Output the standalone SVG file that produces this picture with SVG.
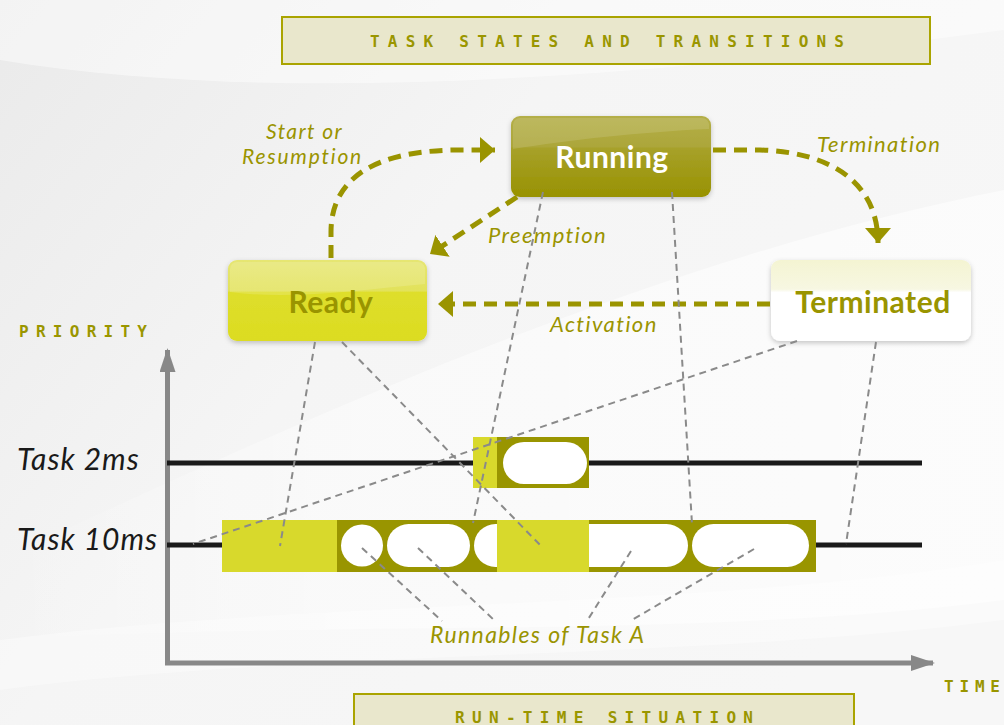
<svg xmlns="http://www.w3.org/2000/svg" width="1004" height="725" viewBox="0 0 1004 725">
  <defs>
    <linearGradient id="bg" x1="0" y1="0" x2="1" y2="0.6">
      <stop offset="0" stop-color="#eaeaea"/>
      <stop offset="0.45" stop-color="#f5f5f5"/>
      <stop offset="1" stop-color="#f7f7f7"/>
    </linearGradient>
    <linearGradient id="sweep" x1="0" y1="0" x2="1" y2="0">
      <stop offset="0" stop-color="#ffffff" stop-opacity="0"/>
      <stop offset="0.35" stop-color="#ffffff" stop-opacity="0.45"/>
      <stop offset="1" stop-color="#ffffff" stop-opacity="0.6"/>
    </linearGradient>
    <linearGradient id="gRunning" x1="0" y1="0" x2="0" y2="1">
      <stop offset="0" stop-color="#b4af48"/>
      <stop offset="0.38" stop-color="#aca63a"/>
      <stop offset="0.4" stop-color="#a7a12a"/>
      <stop offset="1" stop-color="#989200"/>
    </linearGradient>
    <linearGradient id="gReady" x1="0" y1="0" x2="0" y2="1">
      <stop offset="0" stop-color="#e6e673"/>
      <stop offset="0.38" stop-color="#e2e25a"/>
      <stop offset="0.4" stop-color="#dede2c"/>
      <stop offset="1" stop-color="#dcdc20"/>
    </linearGradient>
    <linearGradient id="gTerm" x1="0" y1="0" x2="0" y2="1">
      <stop offset="0" stop-color="#f4f4d2"/>
      <stop offset="0.36" stop-color="#f7f7e2"/>
      <stop offset="0.4" stop-color="#ffffff"/>
      <stop offset="1" stop-color="#ffffff"/>
    </linearGradient>
    <filter id="shadow" x="-10%" y="-10%" width="120%" height="130%">
      <feDropShadow dx="0" dy="2" stdDeviation="2.5" flood-color="#000" flood-opacity="0.22"/>
    </filter>
    <marker id="head" viewBox="0 0 15 26" refX="15" refY="13" markerWidth="15" markerHeight="26" markerUnits="userSpaceOnUse" orient="auto">
      <path d="M0,0 L15,13 L0,26 Z" fill="#9a9400"/>
    </marker>
    <marker id="axisHead" viewBox="0 0 24 16" refX="22" refY="8" markerWidth="24" markerHeight="16" markerUnits="userSpaceOnUse" orient="auto">
      <path d="M0,0 L24,8 L0,16 Z" fill="#888888"/>
    </marker>
    <style>
      .frame { fill: #e9e7cc; stroke: #aaa400; stroke-width: 2; }
      .caps { font-family: "DejaVu Sans Mono", "Liberation Mono", monospace; font-weight: bold; font-size: 16px; fill: #9a9600; }
      .state { font-family: Lato, "Open Sans", sans-serif; font-weight: bold; font-size: 30px; text-anchor: middle; letter-spacing: 0.5px; }
      .edgeLabel { font-family: Lato, "Open Sans", sans-serif; font-style: italic; font-size: 22px; letter-spacing: 1.4px; fill: #9a9400; }
      .taskLabel { font-family: Lato, "Open Sans", sans-serif; font-style: italic; font-size: 30px; letter-spacing: 1px; fill: #1a1a1a; }
      .flow { fill: none; stroke: #9a9400; stroke-width: 5; stroke-dasharray: 13 8; }
      .link { fill: none; stroke: #8a8a8a; stroke-width: 2; stroke-dasharray: 7 5; }
      .track { stroke: #1a1a1a; stroke-width: 5; }
      .axis { stroke: #888888; stroke-width: 5; fill: none; }
      .light { fill: #d8d92c; }
      .dark { fill: #999500; }
      .slot { fill: #ffffff; }
    </style>
  </defs>

  <!-- background with soft light sweeps -->
  <rect x="0" y="0" width="1004" height="725" fill="url(#bg)"/>
  <path d="M0,0 L1004,0 L1004,30 C700,70 300,110 0,60 Z" fill="#ffffff" opacity="0.45"/>
  <path d="M0,640 C300,600 700,610 1004,560 L1004,620 C700,660 300,650 0,690 Z" fill="#ffffff" opacity="0.35"/>
  <path d="M0,560 C300,420 650,260 1004,190 L1004,600 C700,640 300,620 0,640 Z" fill="url(#sweep)"/>

  <!-- headings -->
  <g id="title">
    <rect class="frame" x="282" y="17" width="648" height="47"/>
    <text class="caps" x="370" y="47" textLength="474" lengthAdjust="spacing">TASK STATES AND TRANSITIONS</text>
  </g>
  <g id="footer">
    <rect class="frame" x="354" y="694" width="500" height="40"/>
    <text class="caps" x="455" y="723" textLength="298" lengthAdjust="spacing">RUN-TIME SITUATION</text>
  </g>
  <text id="priority" class="caps" x="19" y="337" textLength="128" lengthAdjust="spacing">PRIORITY</text>
  <text id="time" class="caps" x="944" y="692" textLength="56" lengthAdjust="spacing">TIME</text>

  <!-- axes -->
  <g id="axes">
    <line class="axis" x1="167.5" y1="665" x2="167.5" y2="350" marker-end="url(#axisHead)"/>
    <line class="axis" x1="165" y1="663" x2="933" y2="663" marker-end="url(#axisHead)"/>
  </g>

  <!-- task tracks -->
  <g id="tracks">
    <line class="track" x1="167" y1="463" x2="922" y2="463"/>
    <line class="track" x1="167" y1="545" x2="922" y2="545"/>
    <text class="taskLabel" x="17" y="470">Task 2ms</text>
    <text class="taskLabel" x="17" y="550">Task 10ms</text>
  </g>

  <!-- Task 2ms execution -->
  <g id="task2ms">
    <rect class="light" x="473" y="437" width="24" height="51"/>
    <rect class="dark" x="497" y="437" width="92" height="51"/>
    <rect class="slot" x="503" y="442" width="84" height="42" rx="21" ry="21"/>
  </g>

  <!-- Task 10ms execution -->
  <g id="task10ms">
    <rect class="light" x="222" y="520" width="115" height="52"/>
    <rect class="dark" x="337" y="520" width="160" height="52"/>
    <circle class="slot" cx="362" cy="545.5" r="21"/>
    <rect class="slot" x="387" y="524" width="83" height="43" rx="21.5" ry="21.5"/>
    <path class="slot" d="M497,524 H495.5 A21.5,21.5 0 0 0 495.5,567 H497 Z"/>
    <rect class="light" x="497" y="520" width="92" height="52"/>
    <rect class="dark" x="589" y="520" width="227" height="52"/>
    <path class="slot" d="M589,524 H666.5 A21.5,21.5 0 0 1 666.5,567 H589 Z"/>
    <rect class="slot" x="692" y="524" width="117" height="43" rx="21.5" ry="21.5"/>
  </g>

  <!-- state nodes -->
  <g id="running">
    <rect x="511" y="116" width="200" height="81" rx="9" ry="9" fill="url(#gRunning)" filter="url(#shadow)"/>
    <path d="M513,149 C570,140 640,132 709,129 L709,124 A7,7 0 0 0 702,118 L520,118 A7,7 0 0 0 513,125 Z" fill="#ffffff" opacity="0.12"/>
    <text class="state" x="612" y="168" fill="#ffffff">Running</text>
  </g>
  <g id="ready">
    <rect x="228" y="260" width="199" height="81" rx="9" ry="9" fill="url(#gReady)" filter="url(#shadow)"/>
    <path d="M230,292 C290,300 360,290 425,284 L425,268 A7,7 0 0 0 418,262 L237,262 A7,7 0 0 0 230,269 Z" fill="#ffffff" opacity="0.15"/>
    <text class="state" x="331" y="313" fill="#999400">Ready</text>
  </g>
  <g id="terminated">
    <rect x="771" y="260" width="200" height="81" rx="9" ry="9" fill="url(#gTerm)" filter="url(#shadow)"/>
    <text class="state" x="873" y="313" fill="#999400">Terminated</text>
  </g>

  <!-- transitions and annotation links -->
  <g id="connectors">
    <path class="flow" d="M331,258 L331,232 C331,175 380,150 460,150 L495,150" marker-end="url(#head)"/>
    <path class="flow" d="M713,150 L760,150 C830,152 878,182 878,243" marker-end="url(#head)"/>
    <path class="flow" d="M517,197 L430,254" marker-end="url(#head)"/>
    <path class="flow" d="M770,304 L438,304" marker-end="url(#head)"/>

    <line class="link" x1="315" y1="342" x2="280" y2="546"/>
    <line class="link" x1="342" y1="342" x2="543" y2="548"/>
    <line class="link" x1="543" y1="192" x2="473" y2="523"/>
    <line class="link" x1="672" y1="192" x2="692" y2="524"/>
    <line class="link" x1="797" y1="341" x2="193" y2="544"/>
    <line class="link" x1="876" y1="342" x2="846" y2="544"/>

    <line class="link" x1="362" y1="548" x2="442" y2="621"/>
    <line class="link" x1="418" y1="548" x2="495" y2="621"/>
    <line class="link" x1="631" y1="551" x2="587" y2="621"/>
    <line class="link" x1="754" y1="549" x2="630" y2="621"/>
  </g>

  <!-- labels -->
  <g id="labels">
    <text class="edgeLabel" x="266" y="139" style="font-size:21px">Start or</text>
    <text class="edgeLabel" x="242" y="164" style="font-size:21px;letter-spacing:1.8px">Resumption</text>
    <text class="edgeLabel" x="817" y="152">Termination</text>
    <text class="edgeLabel" x="488" y="243">Preemption</text>
    <text class="edgeLabel" x="550" y="332">Activation</text>
    <text class="edgeLabel" x="430" y="643" style="font-size:23px">Runnables of Task A</text>
  </g>
</svg>
